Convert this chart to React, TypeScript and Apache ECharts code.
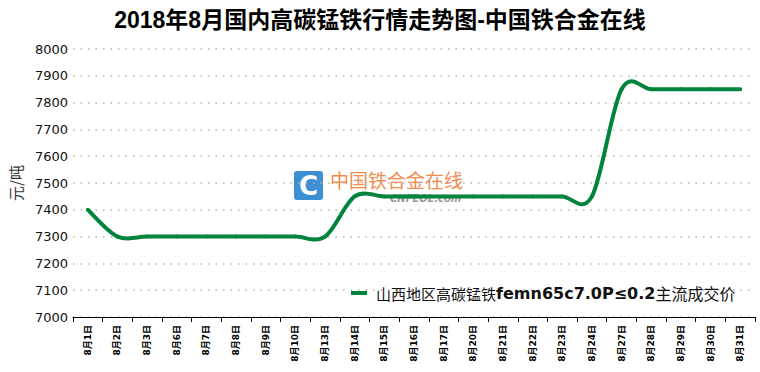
import React, { useEffect, useRef } from "react";
import * as echarts from "echarts";

const titleText = "2018年8月国内高碳锰铁行情走势图-中国铁合金在线";
const seriesName = "山西地区高碳锰铁femn65c7.0P≤0.2主流成交价";
const dates = [
  "8月1日", "8月2日", "8月3日", "8月6日", "8月7日", "8月8日", "8月9日", "8月10日",
  "8月13日", "8月14日", "8月15日", "8月16日", "8月17日", "8月20日", "8月21日", "8月22日",
  "8月23日", "8月24日", "8月27日", "8月28日", "8月29日", "8月30日", "8月31日",
];
const prices = [
  7400, 7300, 7300, 7300, 7300, 7300, 7300, 7300,
  7300, 7450, 7450, 7450, 7450, 7450, 7450, 7450,
  7450, 7450, 7850, 7850, 7850, 7850, 7850,
];
const yMin = 7000;
const yMax = 8000;
const yStep = 100;

const LINE_COLOR = "#00843d";

export default function App() {
  const ref = useRef<HTMLDivElement>(null);
  useEffect(() => {
    const chart = echarts.init(ref.current!, null, { renderer: "svg" });
    const n = prices.length;
    chart.setOption({
      animation: false,
      backgroundColor: "#ffffff",
      title: {
        text: titleText,
        left: "center",
        top: 3,
        textStyle: {
          fontSize: 23,
          fontWeight: "bold",
          color: "#000",
          fontFamily: "'Liberation Sans Narrow', 'Liberation Sans', 'Noto Sans CJK SC', sans-serif",
        },
      },
      grid: { left: 72, right: 5, top: 49, bottom: 55, containLabel: false },
      legend: {
        left: 346,
        top: 280,
        itemWidth: 16,
        itemHeight: 4,
        itemGap: 4,
        icon: "rect",
        data: [seriesName],
        formatter: () => "{a|山西地区高碳锰铁}{b|femn65c7.0P≤0.2}{c|主流成交价}",
        textStyle: {
          padding: [0, 0, 0, 4],
          rich: {
            a: { fontSize: 15, color: "#111", fontFamily: "'Noto Sans CJK SC', sans-serif" },
            b: { fontSize: 16, color: "#111", fontWeight: "bold", fontFamily: "'DejaVu Sans', sans-serif" },
            c: { fontSize: 16, color: "#111", fontFamily: "'Noto Sans CJK SC', sans-serif" },
          },
        },
      },
      xAxis: {
        type: "category",
        data: dates,
        boundaryGap: true,
        axisLine: { lineStyle: { color: "#000", width: 1 } },
        axisTick: { show: true, length: 5, interval: 0, lineStyle: { color: "#000" } },
        axisLabel: {
          interval: 0,
          rotate: 90,
          fontSize: 9,
          fontWeight: "bold",
          color: "#000",
          margin: 8,
          fontFamily: "'DejaVu Sans', 'Noto Sans CJK SC', sans-serif",
        },
        splitLine: { show: false },
      },
      yAxis: {
        type: "value",
        min: yMin,
        max: yMax,
        interval: yStep,
        name: "元/吨",
        nameLocation: "middle",
        nameRotate: 90,
        nameGap: 50,
        nameTextStyle: {
          fontSize: 15,
          color: "#333",
          fontFamily: "'Noto Sans CJK SC', sans-serif",
        },
        axisLine: { show: false },
        axisTick: { show: false },
        axisLabel: {
          fontSize: 13,
          color: "#111",
          margin: 5,
          formatter: (v: number) => String(v),
          fontFamily: "'DejaVu Sans', Verdana, sans-serif",
        },
        splitLine: {
          show: true,
          lineStyle: { color: "#b5b5b5", width: 1.5, type: [1.5, 6] },
        },
      },
      graphic: [
        {
          type: "group",
          z: 0,
          children: [
            {
              type: "rect",
              shape: { x: 294, y: 171, width: 29, height: 29, r: 3 },
              style: { fill: "#3d8fd3" },
            },
            {
              type: "text",
              x: 308.5,
              y: 186,
              style: {
                text: "C",
                fill: "#fff",
                font: "bold 26px 'DejaVu Sans', sans-serif",
                align: "center",
                verticalAlign: "middle",
              },
            },
            {
              type: "text",
              x: 330,
              y: 179,
              style: {
                text: "中国铁合金在线",
                fill: "#f38b4e",
                font: "19px 'Noto Sans CJK SC', sans-serif",
                verticalAlign: "middle",
              },
            },
            {
              type: "text",
              x: 390,
              y: 198,
              style: {
                text: "CNFEOL.com",
                fill: "#9a9a9a",
                font: "italic bold 10px 'DejaVu Sans', sans-serif",
                verticalAlign: "middle",
              },
            },
          ],
        },
      ],
      series: [
        {
          name: seriesName,
          type: "custom",
          data: prices.map((v, i) => [i, v]),
          z: 5,
          itemStyle: { color: LINE_COLOR },
          encode: { x: 0, y: 1 },
          renderItem: (params: any, api: any) => {
            const i = params.dataIndex;
            if (i >= n - 1) return null;
            const pt = (k: number) => {
              const kk = Math.max(0, Math.min(n - 1, k));
              return api.coord([kk, prices[kk]]);
            };
            const p0 = pt(i - 1);
            const p1 = pt(i);
            const p2 = pt(i + 1);
            const p3 = pt(i + 2);
            const t = 1 / 6;
            return {
              type: "bezierCurve",
              shape: {
                x1: p1[0],
                y1: p1[1],
                cpx1: p1[0] + (p2[0] - p0[0]) * t,
                cpy1: p1[1] + (p2[1] - p0[1]) * t,
                cpx2: p2[0] - (p3[0] - p1[0]) * t,
                cpy2: p2[1] - (p3[1] - p1[1]) * t,
                x2: p2[0],
                y2: p2[1],
              },
              style: { stroke: LINE_COLOR, lineWidth: 4, fill: "none", lineCap: "round" },
            };
          },
        },
      ],
    });
    return () => chart.dispose();
  }, []);
  return <div ref={ref} style={{ width: 760, height: 372, position: "absolute", left: 0, top: 0 }} />;
}
